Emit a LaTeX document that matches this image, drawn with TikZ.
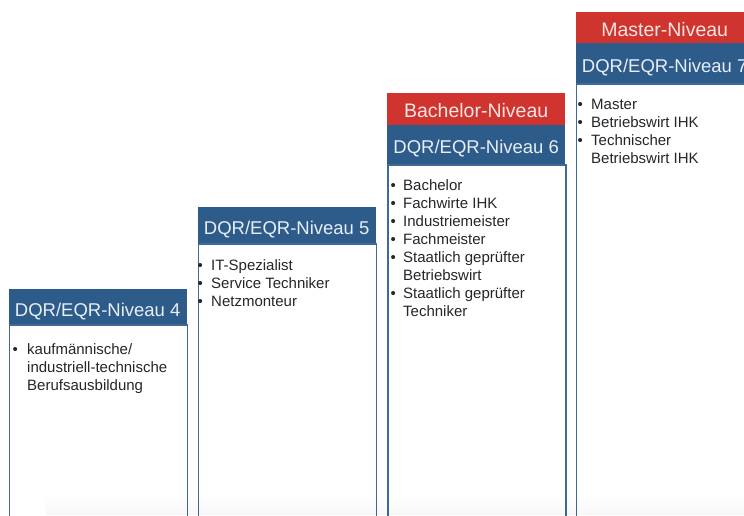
\documentclass[tikz,border=0pt]{standalone}
\usepackage{fontspec}
\setmainfont{Liberation Sans}
\usetikzlibrary{fadings}
\definecolor{dqrblue}{RGB}{45,91,138}
\definecolor{nivred}{RGB}{207,52,46}
\definecolor{bordblue}{RGB}{62,106,152}
\definecolor{hdrtxt}{RGB}{232,238,245}
\definecolor{redtxt}{RGB}{250,230,228}
\definecolor{bodytxt}{RGB}{38,38,38}
\newcommand\bulit[1]{\rule{0pt}{12pt}\makebox[#1][l]{\textbullet}}
\newcommand\bulind[1]{\rule{0pt}{12pt}\hspace*{#1}}
\begin{document}
\begin{tikzpicture}[x=1pt,y=-1pt,
  bluehdr/.style={fill=dqrblue,text=hdrtxt,font=\fontsize{18.5}{22}\selectfont,inner sep=0pt,minimum width=178pt,anchor=north west,text height=19pt,text depth=0pt},
  redhdr/.style={fill=nivred,text=redtxt,font=\fontsize{19.5}{22}\selectfont,inner sep=0pt,minimum width=178pt,anchor=north west,text height=18pt,text depth=0pt},
  colbody/.style={draw=bordblue,line width=1.5pt,fill=white,minimum width=178pt,minimum height=470pt,inner sep=0pt,anchor=north west},
  bodytext/.style={anchor=north west,inner sep=0pt,align=left,text=bodytxt,font=\fontsize{15}{18}\selectfont}]
\useasboundingbox (0,0) rectangle (744,515);
\fill[white] (0,0) rectangle (744,515);
\clip (0,0) rectangle (744,515);

% DQR 4
\node[colbody] (b4) at (8.5,324) {};
\node[bluehdr,minimum height=35pt] (h4) at (8.5,289) {DQR/EQR-Niveau 4};
\node[bodytext] (t4) at (12.4,342.5) {\bulit{14.6pt}kaufmännische/\\\bulind{14.6pt}industriell-technische\\\bulind{14.6pt}Berufsausbildung};

% DQR 5
\node[colbody] (b5) at (197.5,243) {};
\node[bluehdr,minimum height=36pt] (h5) at (197.5,207) {DQR/EQR-Niveau 5};
\node[bodytext] (t5) at (197.4,258.5) {\bulit{13.6pt}IT-Spezialist\\\bulit{13.6pt}Service Techniker\\\bulit{13.6pt}Netzmonteur};

% DQR 6
\node[colbody] (b6) at (387,164) {};
\node[bluehdr,minimum height=39.5pt] (h6) at (387,124.5) {DQR/EQR-Niveau 6};
\node[redhdr,minimum height=31.5pt] (r6) at (387,93) {Bachelor-Niveau};
\node[bodytext] (t6) at (390.4,178) {\bulit{12.6pt}Bachelor\\\bulit{12.6pt}Fachwirte IHK\\\bulit{12.6pt}Industriemeister\\\bulit{12.6pt}Fachmeister\\\bulit{12.6pt}Staatlich geprüfter\\\bulind{12.6pt}Betriebswirt\\\bulit{12.6pt}Staatlich geprüfter\\\bulind{12.6pt}Techniker};

% DQR 7
\node[colbody] (b7) at (575.5,83) {};
\node[bluehdr,minimum height=40pt] (h7) at (575.5,43) {DQR/EQR-Niveau 7};
\node[redhdr,minimum height=31pt] (r7) at (575.5,12) {Master-Niveau};
\node[bodytext] (t7) at (577.4,97) {\bulit{13.6pt}Master\\\bulit{13.6pt}Betriebswirt IHK\\\bulit{13.6pt}Technischer\\\bulind{13.6pt}Betriebswirt IHK};

% faint bottom shadow
\fill[black,fill opacity=0.03,path fading=north] (45,494) rectangle (744,515);
\end{tikzpicture}
\end{document}
